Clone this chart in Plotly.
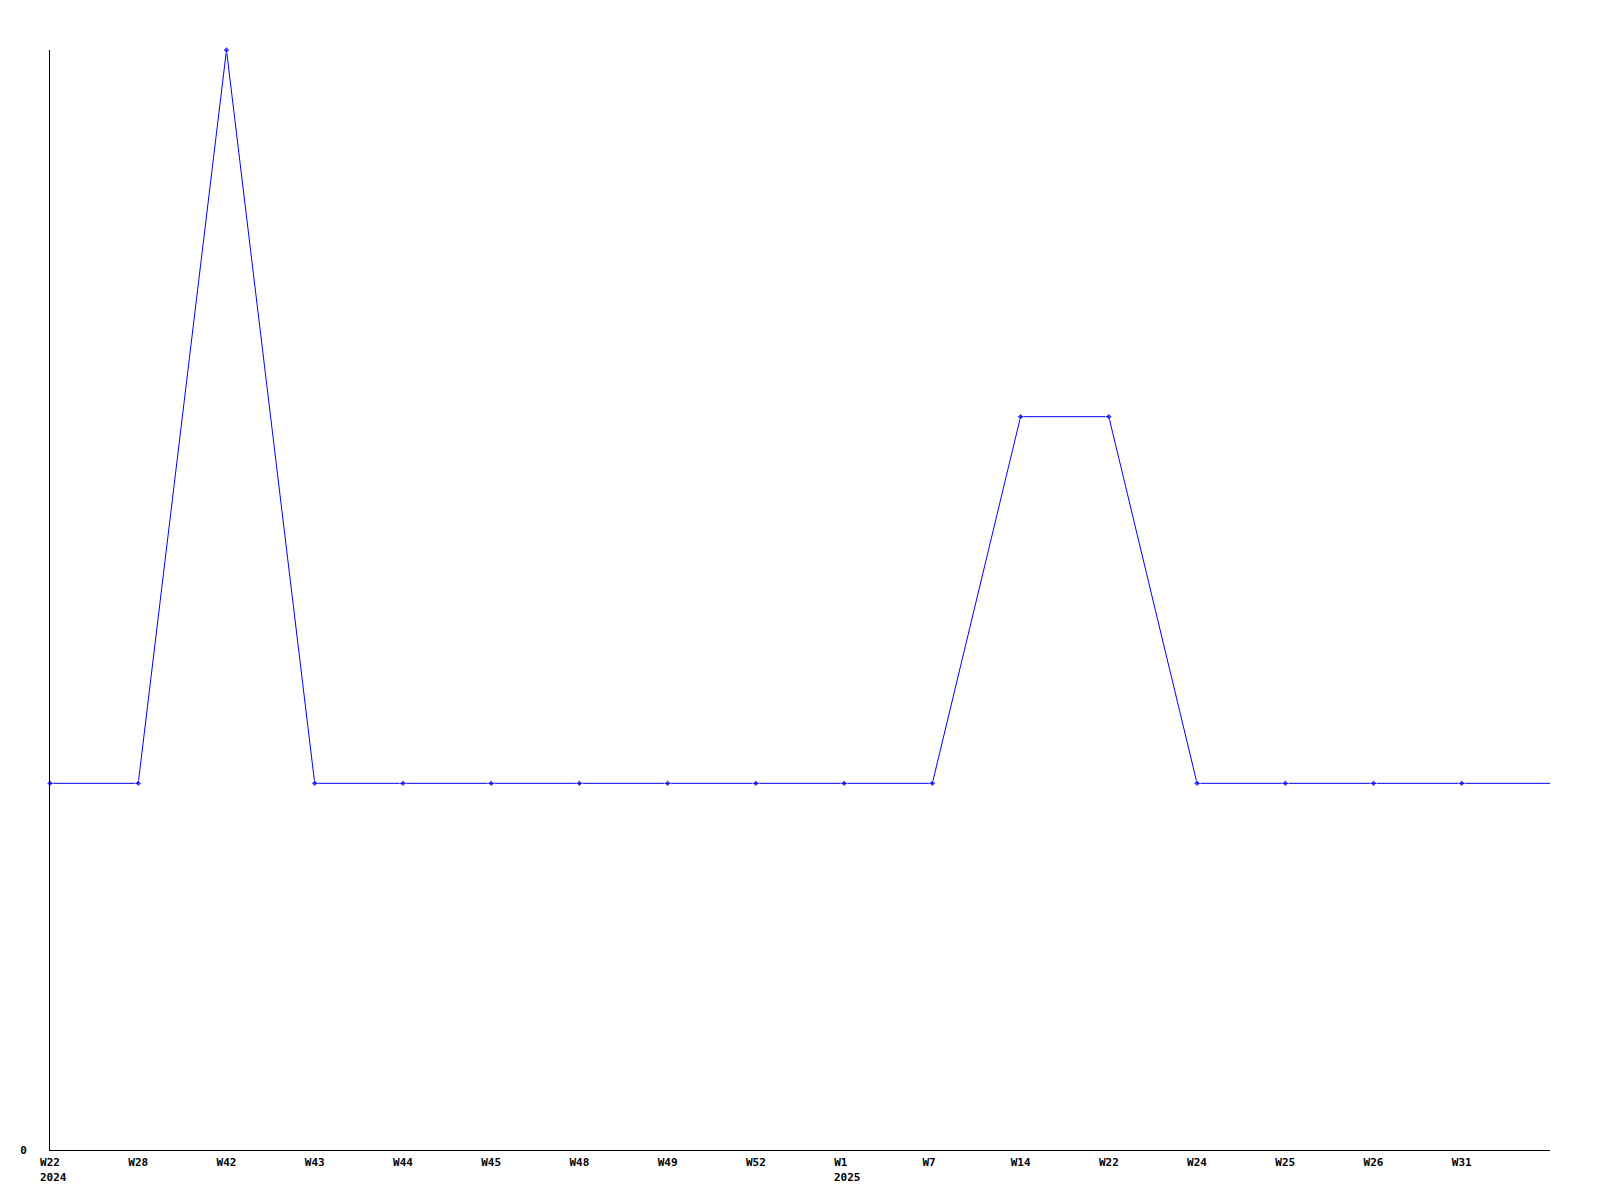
import plotly.graph_objects as go

week_labels = ["W22", "W28", "W42", "W43", "W44", "W45", "W48", "W49", "W52",
               "W1", "W7", "W14", "W22", "W24", "W25", "W26", "W31", ""]
year_labels = {0: "2024", 9: "2025"}
values = [1, 1, 3, 1, 1, 1, 1, 1, 1, 1, 1, 2, 2, 1, 1, 1, 1, 1]

x = list(range(len(values)))
marker_sizes = [5] * (len(values) - 1) + [0]
tick_text = [lbl.ljust(3, "\u00a0") for lbl in week_labels[:-1]]

fig = go.Figure()
fig.add_trace(go.Scatter(
    x=x, y=values, mode="lines+markers",
    line=dict(color="#0000ff", width=1),
    marker=dict(color="#0000ff", size=marker_sizes, symbol="diamond"),
    cliponaxis=False,
))

font = dict(family="DejaVu Sans Mono", size=11, color="black", weight="bold")
char_w = 6.6
for idx, yr in year_labels.items():
    fig.add_annotation(x=idx, xref="x", y=0, yref="paper", text=yr, showarrow=False,
                       xanchor="left", yanchor="middle",
                       xshift=-3 * char_w / 2 - 2, yshift=-27,
                       font=font)

fig.update_layout(
    width=1600, height=1200,
    margin=dict(l=50, r=50, t=50, b=50),
    plot_bgcolor="white", paper_bgcolor="white",
    showlegend=False,
    font=font,
    xaxis=dict(range=[0, len(values) - 1], tickmode="array", tickvals=x[:-1],
               ticktext=tick_text, showgrid=False, zeroline=False,
               showline=True, linecolor="black", linewidth=1, ticks="",
               tickfont=font, ticklabelstandoff=2),
    yaxis=dict(range=[0, 3], tickmode="array", tickvals=[0], ticktext=["0"],
               showgrid=False, zeroline=False, showline=True, linecolor="black",
               linewidth=1, ticks="", tickfont=font, ticklabelstandoff=20),
)

fig.write_html("out.html", config={"displayModeBar": False},
               post_script="document.body.style.margin='0';")
